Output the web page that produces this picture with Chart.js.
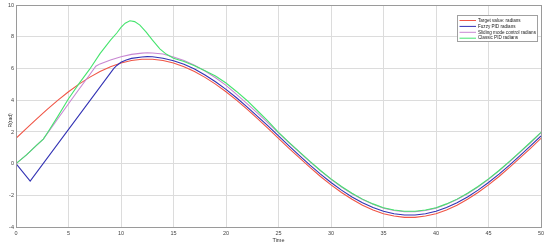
<!DOCTYPE html>
<html><head><meta charset="utf-8">
<script src="https://cdn.jsdelivr.net/npm/chart.js@4.4.1/dist/chart.umd.min.js"></script>
<style>html,body{margin:0;padding:0;background:#fff;}#wrap{position:relative;width:550px;height:245px;}</style>
</head><body><div id="wrap"><canvas id="c" width="550" height="245"></canvas></div>
<script>
const seriesLabels = ['Target value: radians', 'Fuzzy PID radians', 'Sliding mode control radians', 'Classic PID radians'];
const xTitle = 'Time';
const yTitle = 'R(rad)';

const targetT = [0,1,2,3,4,5,6,7,8,9,10,11,12,13,14,15,16,17,18,19,20,21,22,23,24,25,26,27,28,29,30,31,32,33,34,35,36,37,38,39,40,41,42,43,44,45,46,47,48,49,50];
const targetY = [1.60,2.23,2.84,3.44,4.01,4.54,5.02,5.45,5.82,6.12,6.36,6.51,6.59,6.59,6.51,6.36,6.12,5.82,5.45,5.02,4.54,4.01,3.44,2.84,2.23,1.60,0.97,0.36,-0.24,-0.81,-1.34,-1.82,-2.25,-2.62,-2.92,-3.16,-3.31,-3.39,-3.39,-3.31,-3.16,-2.92,-2.62,-2.25,-1.82,-1.34,-0.81,-0.24,0.36,0.97,1.60];

const fuzzyT = [0,1.35,9.3,9.6,10,10.5,11,12,12.5,13,14,15,16,17,18,19,20,21,22,23,24,25,26,27,28,29,30,31,32,33,34,35,36,37,38,39,40,41,42,43,44,45,46,47,48,49,50];
const fuzzyY = [0,-1.1,6.0,6.2,6.4,6.55,6.65,6.74,6.76,6.75,6.66,6.5,6.28,5.98,5.60,5.17,4.69,4.16,3.59,2.99,2.38,1.75,1.12,0.51,-0.09,-0.66,-1.19,-1.67,-2.10,-2.47,-2.77,-3.01,-3.16,-3.24,-3.24,-3.16,-3.01,-2.77,-2.47,-2.10,-1.67,-1.19,-0.66,-0.09,0.51,1.12,1.75];

const slidingT = [0,1,2,2.6,4,5,6,7,7.6,8,9,10,11,12,12.5,13,14,15,16,17,18,19,20,21,22,23,24,25,26,27,28,29,30,31,32,33,34,35,36,37,38,39,40,41,42,43,44,45,46,47,48,49,50];
const slidingY = [0,0.55,1.18,1.55,2.85,3.78,4.7,5.6,6.15,6.3,6.55,6.75,6.9,6.98,7.0,6.99,6.92,6.74,6.52,6.22,5.85,5.42,4.94,4.37,3.79,3.19,2.58,1.95,1.32,0.71,0.11,-0.46,-0.99,-1.47,-1.90,-2.27,-2.57,-2.81,-2.96,-3.04,-3.04,-2.96,-2.81,-2.57,-2.27,-1.90,-1.47,-0.99,-0.46,0.11,0.71,1.32,1.95];

const classicT = [0,1,2,2.6,3,4,5,6,7,8,9,9.6,10,10.4,10.85,11.3,11.8,12.4,13,13.7,14.3,15,16,17,18,19,20,21,22,23,24,25,26,27,28,29,30,31,32,33,34,35,36,37,38,39,40,41,42,43,44,45,46,47,48,49,50];
const classicY = [0,0.55,1.18,1.55,1.95,3.0,4.1,5.05,5.95,6.95,7.8,8.25,8.6,8.87,9.02,8.97,8.75,8.3,7.8,7.25,6.92,6.65,6.45,6.18,5.87,5.54,5.09,4.56,3.99,3.34,2.68,1.98,1.35,0.74,0.14,-0.43,-0.96,-1.44,-1.87,-2.24,-2.54,-2.78,-2.93,-3.01,-3.01,-2.93,-2.78,-2.54,-2.24,-1.87,-1.44,-0.96,-0.43,0.14,0.74,1.35,1.98];

const seriesColors = ['rgb(240,85,70)', 'rgb(50,50,180)', 'rgb(200,135,210)', 'rgb(70,228,110)'];
const FONT = '"Liberation Sans", Arial, sans-serif';

function pts(t, y) { return t.map((v, i) => ({x: v, y: y[i]})); }
const seriesData = [pts(targetT, targetY), pts(fuzzyT, fuzzyY), pts(slidingT, slidingY), pts(classicT, classicY)];

const framePlugin = {
  id: 'frame',
  afterDatasetsDraw(chart) {
    const a = chart.chartArea, ctx = chart.ctx;
    ctx.save();
    ctx.strokeStyle = '#9a9a9a'; ctx.lineWidth = 1;
    ctx.strokeRect(Math.round(a.left) + 0.5, Math.round(a.top) + 0.5, Math.round(a.right - a.left), Math.round(a.bottom - a.top));
    ctx.restore();
  }
};

const legendPlugin = {
  id: 'boxLegend',
  afterDraw(chart) {
    const ctx = chart.ctx;
    const x = 457.5, y = 15.5, w = 80, h = 26;
    ctx.save();
    ctx.fillStyle = '#fff'; ctx.fillRect(x, y, w, h);
    ctx.strokeStyle = '#a0a0a0'; ctx.lineWidth = 1; ctx.strokeRect(x, y, w, h);
    ctx.font = '4.6px ' + FONT;
    ctx.textBaseline = 'middle';
    seriesLabels.forEach((lab, i) => {
      const ry = 20.5 + i * 5.9;
      ctx.strokeStyle = seriesColors[i]; ctx.lineWidth = 1;
      ctx.beginPath(); ctx.moveTo(459.5, ry); ctx.lineTo(476, ry); ctx.stroke();
      ctx.fillStyle = '#222';
      ctx.fillText(lab, 478, ry);
    });
    ctx.restore();
  }
};

new Chart(document.getElementById('c'), {
  type: 'line',
  data: {
    datasets: seriesLabels.map((lab, i) => ({
      label: lab,
      data: seriesData[i],
      borderColor: seriesColors[i],
      backgroundColor: seriesColors[i],
      borderWidth: 1.1,
      pointRadius: 0,
      tension: 0,
      fill: false,
      order: 4 - i
    }))
  },
  options: {
    responsive: false,
    animation: false,
    devicePixelRatio: 1,
    layout: {padding: {top: 5, right: 9, bottom: 0, left: 0}},
    plugins: {legend: {display: false}, tooltip: {enabled: false}},
    scales: {
      x: {
        type: 'linear', min: 0, max: 50,
        ticks: {stepSize: 5, font: {size: 5.5, family: FONT}, color: '#444', padding: 3, maxRotation: 0},
        grid: {color: '#dcdcdc', drawTicks: false, lineWidth: 1},
        border: {color: '#9a9a9a'},
        title: {display: true, text: xTitle, font: {size: 5.5, family: FONT}, color: '#333', padding: {top: 0, bottom: 1.5}},
        afterFit(s) { s.height = 18; }
      },
      y: {
        type: 'linear', min: -4, max: 10,
        ticks: {stepSize: 2, font: {size: 5.5, family: FONT}, color: '#444', padding: 2},
        grid: {color: '#dcdcdc', drawTicks: false, lineWidth: 1},
        border: {color: '#9a9a9a'},
        title: {display: true, text: yTitle + '      ', font: {size: 5, family: FONT}, color: '#333', padding: {top: 8, bottom: 0}},
        afterFit(s) { s.width = 16; }
      }
    }
  },
  plugins: [framePlugin, legendPlugin]
});
</script>
</body></html>
